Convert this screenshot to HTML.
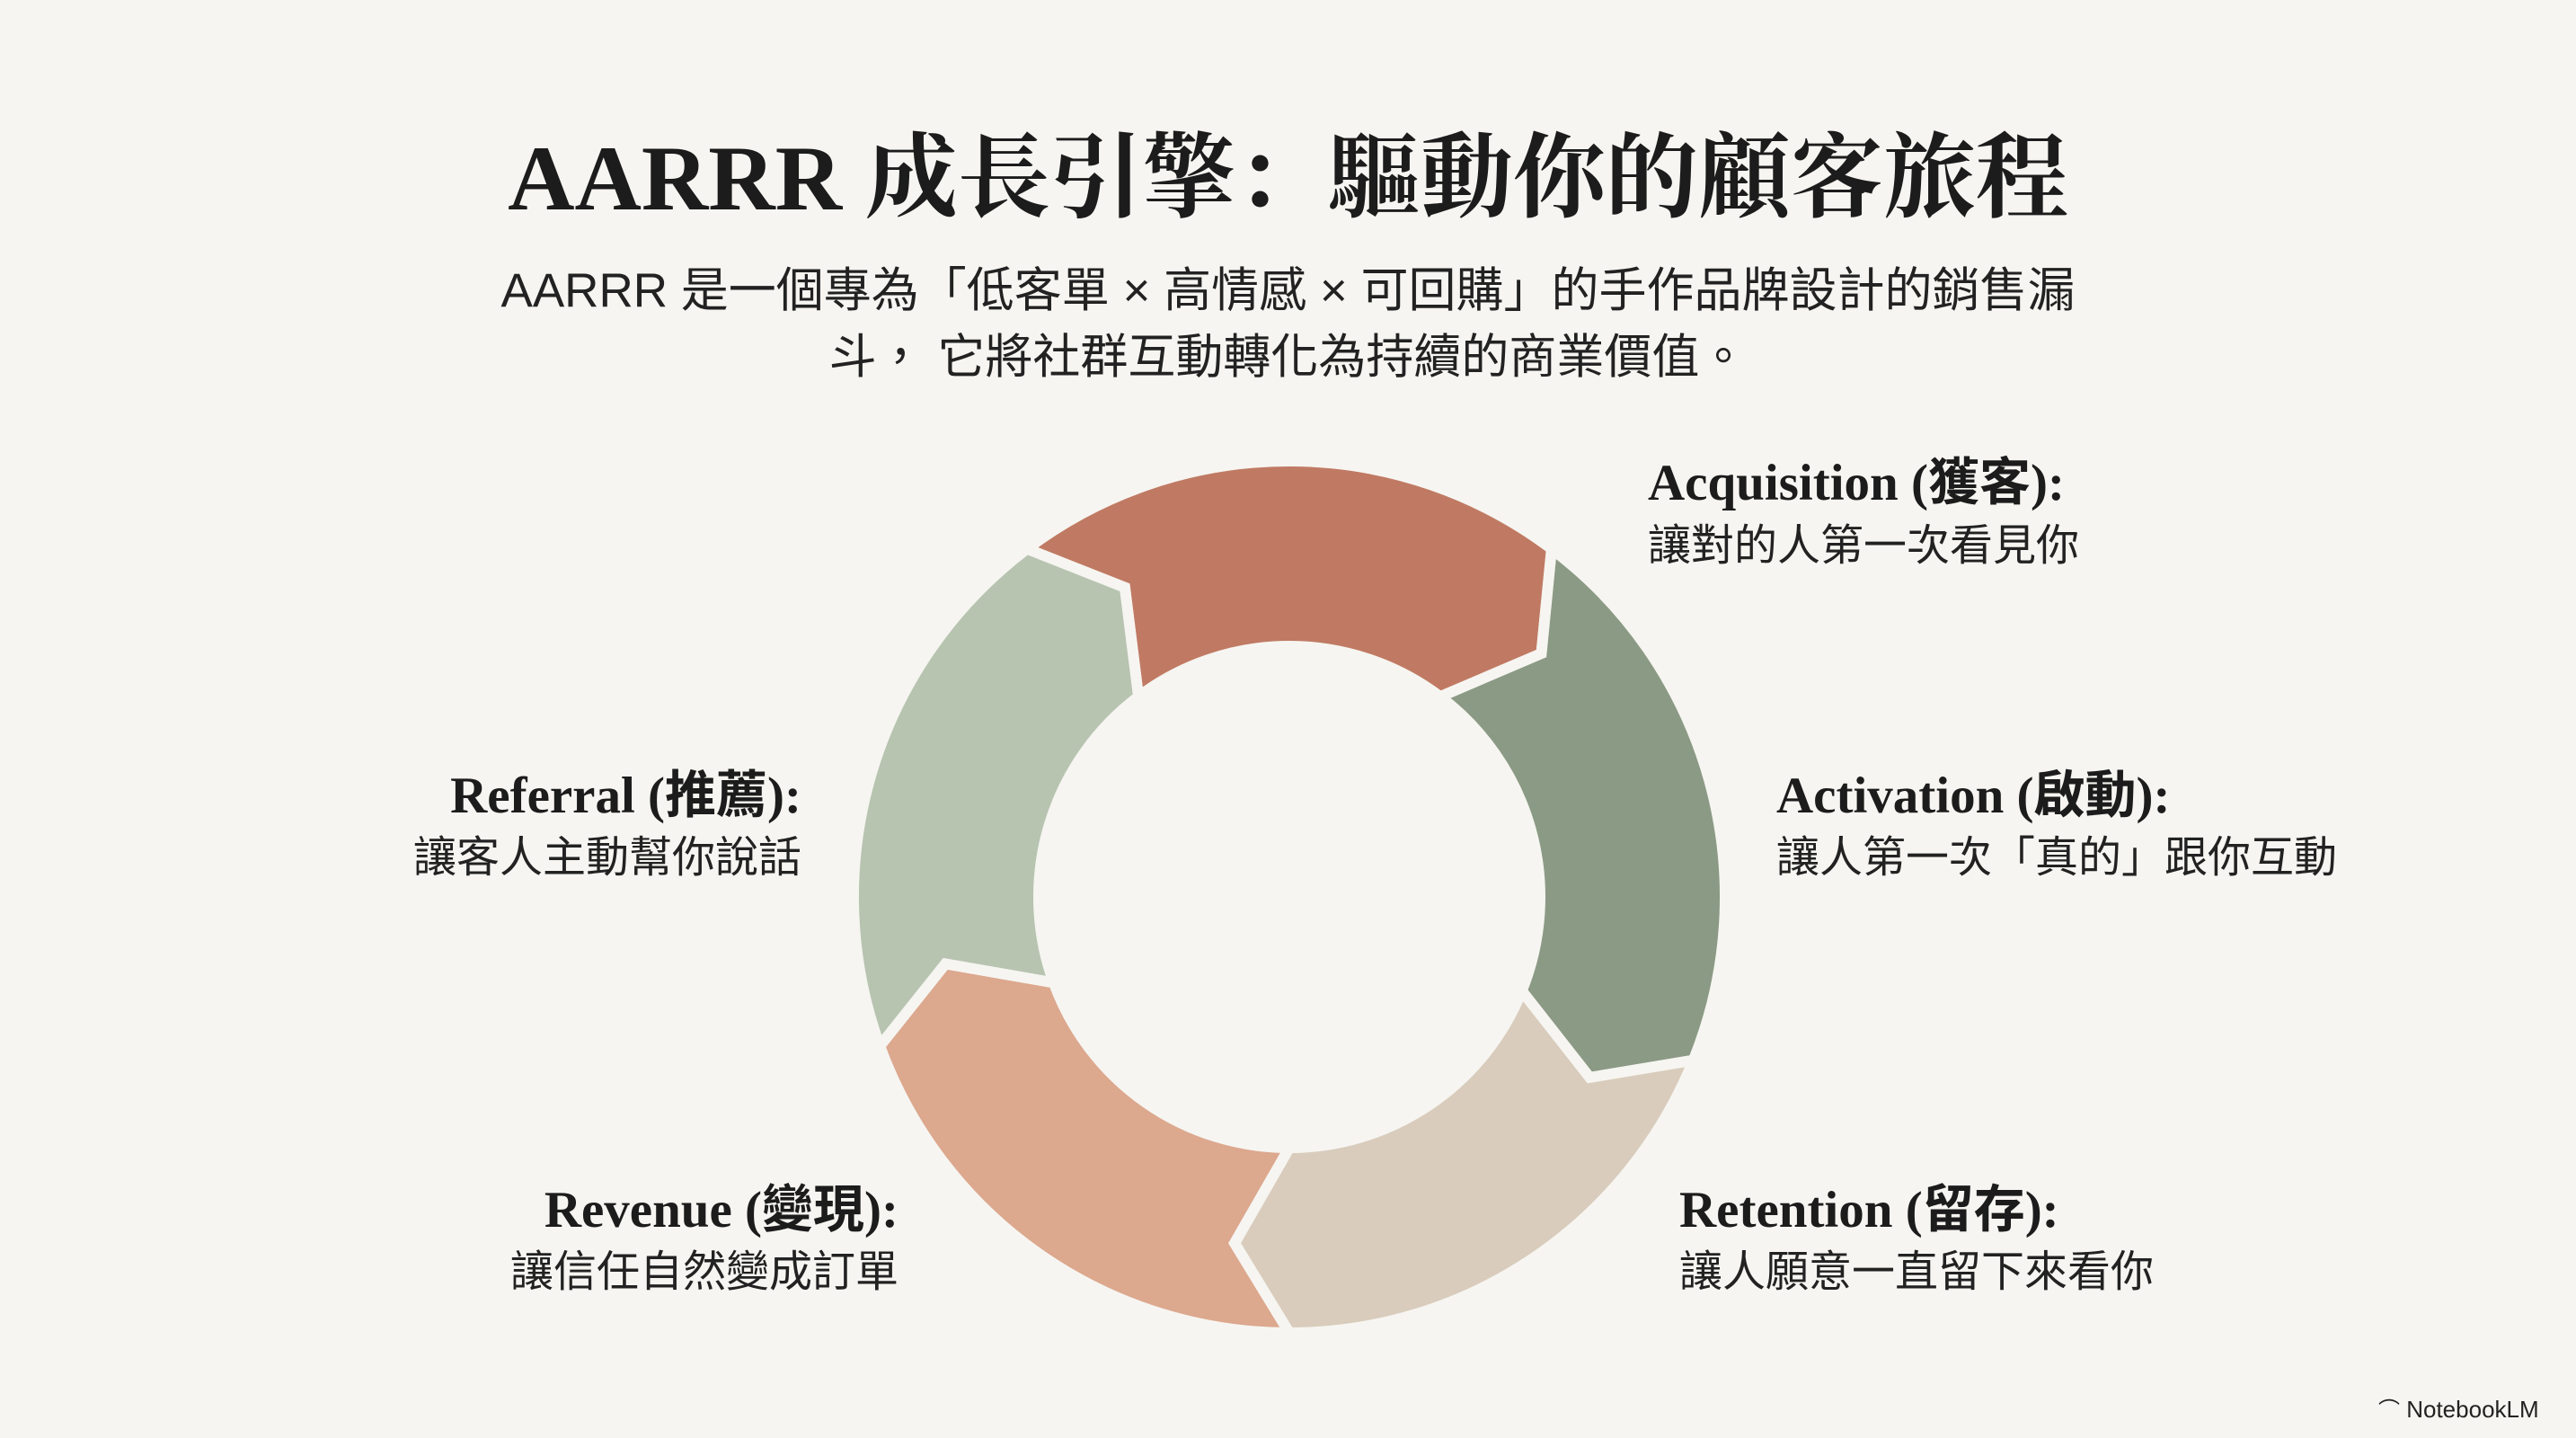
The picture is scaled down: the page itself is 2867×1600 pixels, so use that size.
<!DOCTYPE html>
<html><head><meta charset="utf-8">
<style>
html,body{margin:0;padding:0}
body{width:2867px;height:1600px;background:#f6f5f1;position:relative;overflow:hidden;color:#1c1c1c}
.t{position:absolute;white-space:nowrap;line-height:1}
.h{font-family:"Liberation Serif","Noto Serif CJK SC",serif;font-weight:bold}
.s{font-family:"Liberation Sans","Noto Sans CJK TC",sans-serif}
.lt{font-family:"Liberation Serif","Noto Sans CJK TC",serif;font-weight:bold;font-size:57px}
.ld{font-family:"Liberation Sans","Noto Sans CJK TC",sans-serif;font-size:48px;color:#222}
.r{text-align:right}
</style></head><body>
<div class="t h" style="left:0;width:2867px;text-align:center;top:148px;font-size:103px">AARRR 成長引擎：驅動你的顧客旅程</div>
<div class="t s" style="left:0;width:2867px;text-align:center;top:297px;font-size:53px;color:#222">AARRR 是一個專為「低客單 × 高情感 × 可回購」的手作品牌設計的銷售漏</div>
<div class="t s" style="left:0;width:2867px;text-align:center;top:371px;font-size:53px;color:#222">斗， 它將社群互動轉化為持續的商業價值。</div>

<svg id="ring" width="2867" height="1600" style="position:absolute;left:0;top:0"></svg>

<div class="t lt" style="left:1834px;top:509px">Acquisition (獲客):</div>
<div class="t ld" style="left:1834px;top:584px">讓對的人第一次看見你</div>
<div class="t lt" style="left:1977px;top:857px">Activation (啟動):</div>
<div class="t ld" style="left:1977px;top:931px">讓人第一次「真的」跟你互動</div>
<div class="t lt" style="left:1869px;top:1318px">Retention (留存):</div>
<div class="t ld" style="left:1869px;top:1392px">讓人願意一直留下來看你</div>
<div class="t lt r" style="right:1975px;top:857px">Referral (推薦):</div>
<div class="t ld r" style="right:1975px;top:931px">讓客人主動幫你說話</div>
<div class="t lt r" style="right:1867px;top:1318px">Revenue (變現):</div>
<div class="t ld r" style="right:1867px;top:1392px">讓信任自然變成訂單</div>

<div class="t s" style="left:2647px;top:1555px;font-size:26px;color:#222"><span style="font-size:24px">⌒</span> NotebookLM</div>

<script>
(function(){
var cx=1435,cy=998,R=485,r=279,M=390,tip=9;
var b=[-127,-53,22,90,160];
var cols=["#c07a63","#8b9a84","#d9ccbc","#dca88e","#b7c4b0"];
function p(a,rad){var t=a*Math.PI/180;return (cx+rad*Math.cos(t)).toFixed(1)+","+(cy+rad*Math.sin(t)).toFixed(1);}
var s="";
for(var i=0;i<5;i++){
 var a0=b[i],a1=b[(i+1)%5];if(a1<a0)a1+=360;
 var d="M"+p(a0,R)+" A"+R+","+R+" 0 0 1 "+p(a1,R)+" L"+p(a1+tip,M)+" L"+p(a1,r)+
 " A"+r+","+r+" 0 0 0 "+p(a0,r)+" L"+p(a0+tip,M)+" Z";
 s+='<path d="'+d+'" fill="'+cols[i]+'" stroke="#f6f5f1" stroke-width="12" stroke-linejoin="miter"/>';
}
document.getElementById("ring").innerHTML=s;
})();
</script>
</body></html>
